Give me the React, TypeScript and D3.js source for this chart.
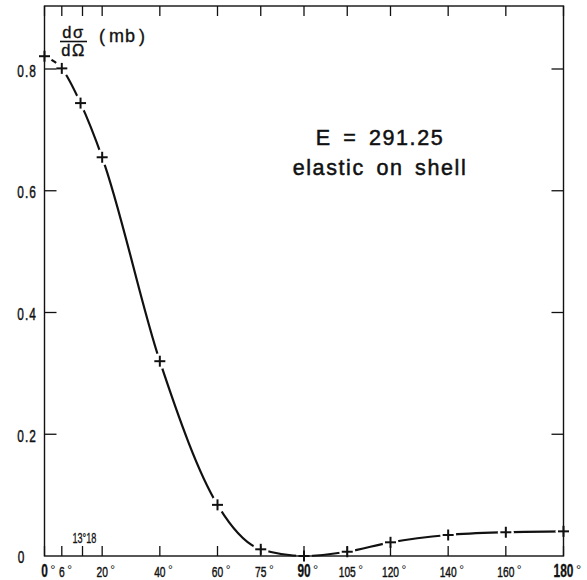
import React from "react";
import * as d3 from "d3";

// Data
const angles = [0, 6, 12.5, 20, 40, 60, 75, 90, 105, 120, 140, 160, 180];
const crossSection = [0.821, 0.801, 0.744, 0.655, 0.32, 0.084, 0.011, 0.0, 0.007, 0.0225, 0.0345, 0.039, 0.0405];

const xTickValues = [0, 6, 20, 40, 60, 75, 90, 105, 120, 140, 160, 180];
const xTickLabels = ["0", "6", "20", "40", "60", "75", "90", "105", "120", "140", "160", "180"];
const boldXTicks = [0, 90, 180];
const extraTick = 13.18;
const extraTickLabel = "13°18";

const yTickValues = [0.2, 0.4, 0.6, 0.8];
const yTickLabels = ["0.2", "0.4", "0.6", "0.8"];

const annotationLines = ["E = 291.25", "elastic on shell"];

const W = 587;
const H = 580;
const left = 44.5;
const right = 563.5;
const top = 6;
const bottom = 556;

const FONT = "'Liberation Sans', Arial, Helvetica, sans-serif";

export default function App() {
  const x = d3.scaleLinear().domain([0, 180]).range([left, right]);
  const y = d3.scaleLinear().domain([0, 0.8]).range([bottom, bottom - 487]);

  const pts: [number, number][] = angles.map((a, i) => [a, crossSection[i]]);
  const line = d3
    .line<[number, number]>()
    .x((d) => x(d[0]))
    .y((d) => y(d[1]))
    .curve(d3.curveMonotoneX);

  const allXTicks = [...xTickValues, extraTick];
  const ink = "#111";

  return (
    <svg
      width={W}
      height={H}
      style={{ position: "absolute", left: 0, top: 0, background: "#fff" }}
      fontFamily={FONT}
    >
      <rect x={0} y={0} width={W} height={H} fill="#fff" />
      <defs>
        <mask id="gaps" maskUnits="userSpaceOnUse" x={0} y={0} width={W} height={H}>
          <rect x={0} y={0} width={W} height={H} fill="white" />
          {pts.map((p, i) => (
            <circle key={i} cx={x(p[0])} cy={y(p[1])} r={8} fill="black" />
          ))}
        </mask>
      </defs>

      {/* frame */}
      <rect x={left} y={top} width={right - left} height={bottom - top} fill="none" stroke={ink} strokeWidth={1.4} />

      {/* x ticks bottom and top */}
      {allXTicks.map((v, i) => (
        <g key={"xt" + i}>
          <line x1={x(v)} x2={x(v)} y1={bottom} y2={bottom - 10} stroke={ink} strokeWidth={1.3} />
          <line x1={x(v)} x2={x(v)} y1={top} y2={top + 10} stroke={ink} strokeWidth={1.3} />
        </g>
      ))}

      {/* y ticks left and right */}
      {yTickValues.map((v, i) => (
        <g key={"yt" + i}>
          <line x1={left} x2={left + 12} y1={y(v)} y2={y(v)} stroke={ink} strokeWidth={1.3} />
          <line x1={right} x2={right - 12} y1={y(v)} y2={y(v)} stroke={ink} strokeWidth={1.3} />
        </g>
      ))}

      {/* x tick labels */}
      {xTickValues.map((v, i) => {
        const bold = boldXTicks.includes(v);
        const fs = bold ? 17.5 : 15.5;
        const sx = bold ? 0.68 : 0.66;
        const label = xTickLabels[i];
        const half = (label.length * fs * 0.556 * sx) / 2;
        return (
          <g key={"xl" + i}>
            <text
              transform={`translate(${x(v)},576.5) scale(${sx},1)`}
              textAnchor="middle"
              fontSize={fs}
              fontWeight={bold ? "bold" : "normal"}
              fill={ink}
              stroke={ink}
              strokeWidth={bold ? 0.3 : 0.45}
            >
              {label}
            </text>
            <text x={x(v) + half + 2.5} y={574} fontSize={bold ? 13 : 12} fill={ink}>
              °
            </text>
          </g>
        );
      })}

      {/* extra tick label */}
      <text
        transform={`translate(${x(extraTick) - 10},543) scale(0.65,1)`}
        fontSize={14}
        fill={ink}
        stroke={ink}
        strokeWidth={0.3}
      >
        {extraTickLabel}
      </text>

      {/* y tick labels */}
      {yTickValues.map((v, i) => (
        <text
          key={"yl" + i}
          transform={`translate(37,${y(v) + 7.5}) scale(0.72,1)`}
          textAnchor="end"
          fontSize={16.5}
          fill={ink}
          stroke={ink}
          strokeWidth={0.45}
          letterSpacing={1.5}
        >
          {yTickLabels[i]}
        </text>
      ))}
      <text
        transform={`translate(21,563) scale(0.72,1)`}
        textAnchor="middle"
        fontSize={16.5}
        fill={ink}
        stroke={ink}
        strokeWidth={0.45}
      >
        0
      </text>

      {/* y axis title: dσ/dΩ (mb) */}
      <text x={73.5} y={37.5} textAnchor="middle" fontSize={16.5} fill={ink} stroke={ink} strokeWidth={0.35} letterSpacing={1.5}>
        dσ
      </text>
      <line x1={60} x2={87} y1={41.5} y2={41.5} stroke={ink} strokeWidth={1.6} />
      <text x={73.5} y={56} textAnchor="middle" fontSize={16.5} fill={ink} stroke={ink} strokeWidth={0.35} letterSpacing={1.5}>
        dΩ
      </text>
      <text x={99} y={42} fontSize={18} fill={ink} stroke={ink} strokeWidth={0.35} letterSpacing={1}>
        (<tspan dx={3}>mb</tspan>
        <tspan dx={3}>)</tspan>
      </text>

      {/* annotation */}
      {annotationLines.map((t, i) => (
        <text
          key={"an" + i}
          x={380}
          y={145 + i * 30}
          textAnchor="middle"
          fontSize={21.5}
          fill={ink}
          stroke={ink}
          strokeWidth={0.5}
          letterSpacing={1.6}
          wordSpacing={4}
        >
          {t}
        </text>
      ))}

      {/* curve */}
      <path d={line(pts) || ""} fill="none" stroke={ink} strokeWidth={2.2} mask="url(#gaps)" />

      {/* markers */}
      {pts.map((p, i) => {
        const cx = x(p[0]);
        const cy = y(p[1]);
        return (
          <g key={"m" + i} stroke={ink} strokeWidth={2}>
            <line x1={cx - 5.5} x2={cx + 5.5} y1={cy} y2={cy} />
            <line x1={cx} x2={cx} y1={cy - 5.5} y2={cy + 5.5} />
          </g>
        );
      })}
    </svg>
  );
}
